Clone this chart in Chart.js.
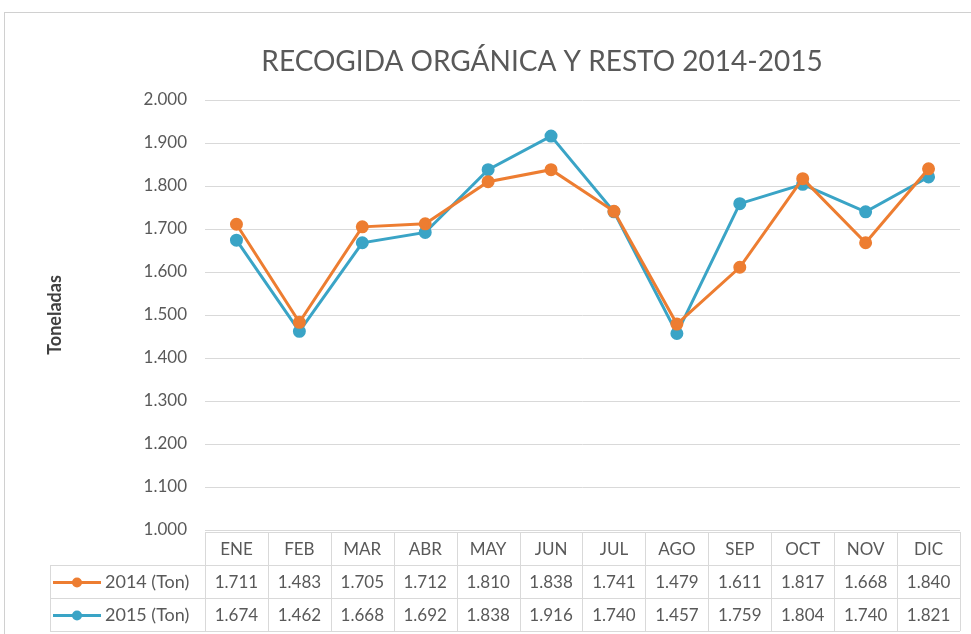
<!DOCTYPE html>
<html>
<head>
<meta charset="utf-8">
<script src="https://cdn.jsdelivr.net/npm/chart.js@4"></script>
<style>
  html, body { margin: 0; padding: 0; background: #fff; }
  #wrap { width: 971px; height: 634px; position: relative; }
</style>
</head>
<body>
<div id="wrap"><canvas id="chart" width="971" height="634"></canvas></div>
<script>
// Recogida orgánica y resto 2014-2015 - line chart with data table underneath
const months = ['ENE', 'FEB', 'MAR', 'ABR', 'MAY', 'JUN', 'JUL', 'AGO', 'SEP', 'OCT', 'NOV', 'DIC'];
const tons2014 = [1711, 1483, 1705, 1712, 1810, 1838, 1741, 1479, 1611, 1817, 1668, 1840];
const tons2015 = [1674, 1462, 1668, 1692, 1838, 1916, 1740, 1457, 1759, 1804, 1740, 1821];
const seriesNames = ['2014 (Ton)', '2015 (Ton)'];
const chartTitle = 'RECOGIDA ORGÁNICA Y RESTO 2014-2015';
const yMin = 1000, yMax = 2000, yStep = 100;

const ORANGE = '#ED7D31';
const TEAL = '#3AA4C6';
const GRID = '#d9d9d9';
const TEXT = '#595959';
const FONT = 'Lato, "Open Sans", sans-serif';

function fmtNum(v) {
  return (v / 1000).toFixed(3); // 1711 -> "1.711"
}

// frame, white background and the title (Excel centres it a bit right of the canvas middle)
const framePlugin = {
  id: 'frame',
  beforeDraw(chart) {
    const c = chart.ctx;
    c.save();
    c.fillStyle = '#fff';
    c.fillRect(0, 0, chart.width, chart.height);
    c.strokeStyle = '#d0d0d0';
    c.lineWidth = 1;
    c.strokeRect(4.5, 12.5, chart.width, chart.height);
    c.fillStyle = TEXT;
    c.font = '28px ' + FONT;
    c.textAlign = 'center';
    c.textBaseline = 'middle';
    c.fillText(chartTitle, 542, 62);
    c.restore();
  }
};

// data table under the plot, columns lined up with the x scale
const tablePlugin = {
  id: 'dataTable',
  afterDraw(chart) {
    const c = chart.ctx;
    const x = chart.scales.x;
    const area = chart.chartArea;
    const colW = x.getPixelForValue(1) - x.getPixelForValue(0);
    const top = area.bottom + 2;
    const rowH = 33;
    const legLeft = 50;
    const rows = [top, top + rowH, top + rowH * 2, top + rowH * 3];
    c.save();
    c.strokeStyle = GRID;
    c.lineWidth = 1;
    c.beginPath();
    c.moveTo(area.left, rows[0] + 0.5); c.lineTo(area.right, rows[0] + 0.5);
    for (let r = 1; r < 4; r++) {
      c.moveTo(legLeft, Math.round(rows[r]) + 0.5);
      c.lineTo(area.right, Math.round(rows[r]) + 0.5);
    }
    for (let i = 0; i <= months.length; i++) {
      const px = Math.round(x.getPixelForValue(i) - colW / 2) + 0.5;
      c.moveTo(px, rows[0]); c.lineTo(px, rows[3]);
    }
    c.moveTo(legLeft + 0.5, rows[1]); c.lineTo(legLeft + 0.5, rows[3]);
    c.stroke();

    c.font = '17px ' + FONT;
    c.fillStyle = TEXT;
    c.textAlign = 'center';
    c.textBaseline = 'middle';
    months.forEach((m, i) => {
      c.fillText(m, x.getPixelForValue(i), rows[0] + rowH / 2 + 1);
    });
    const sets = [tons2014, tons2015];
    const cols = [ORANGE, TEAL];
    sets.forEach((vals, s) => {
      const cy = rows[s + 1] + rowH / 2 + 1;
      c.font = '17px ' + FONT;
      c.textAlign = 'center';
      c.fillStyle = TEXT;
      vals.forEach((v, i) => c.fillText(fmtNum(v), x.getPixelForValue(i), cy));
      // legend key
      c.strokeStyle = cols[s];
      c.lineWidth = 3;
      c.beginPath();
      c.moveTo(53, cy); c.lineTo(101, cy);
      c.stroke();
      c.fillStyle = cols[s];
      c.beginPath();
      c.arc(77, cy, 5, 0, Math.PI * 2);
      c.fill();
      c.fillStyle = TEXT;
      c.textAlign = 'left';
      c.font = '18px ' + FONT;
      c.fillText(seriesNames[s], 105, cy);
    });
    c.restore();
  }
};

new Chart(document.getElementById('chart'), {
  type: 'line',
  data: {
    labels: months,
    datasets: [
      {
        label: seriesNames[0],
        data: tons2014,
        borderColor: ORANGE,
        backgroundColor: ORANGE,
        borderWidth: 3,
        pointRadius: 5,
        pointHoverRadius: 5,
        tension: 0
      },
      {
        label: seriesNames[1],
        data: tons2015,
        borderColor: TEAL,
        backgroundColor: TEAL,
        borderWidth: 3,
        pointRadius: 5,
        pointHoverRadius: 5,
        tension: 0
      }
    ]
  },
  options: {
    responsive: false,
    animation: false,
    layout: { padding: { top: 100, left: 44, right: 11, bottom: 104 } },
    plugins: {
      legend: { display: false },
      tooltip: { enabled: false },
      title: { display: false }
    },
    scales: {
      x: { display: false, offset: true },
      y: {
        min: yMin,
        max: yMax,
        afterFit(scale) { scale.width = 161; },
        border: { display: false },
        grid: { color: GRID, drawTicks: false },
        ticks: {
          stepSize: yStep,
          padding: 18,
          color: TEXT,
          font: { family: FONT, size: 17 },
          callback: v => fmtNum(v)
        },
        title: {
          display: true,
          text: 'Toneladas',
          color: '#404040',
          font: { family: FONT, size: 18, weight: 'bold' },
          padding: { top: 0, bottom: 0 }
        }
      }
    }
  },
  plugins: [framePlugin, tablePlugin]
});
</script>
</body>
</html>
